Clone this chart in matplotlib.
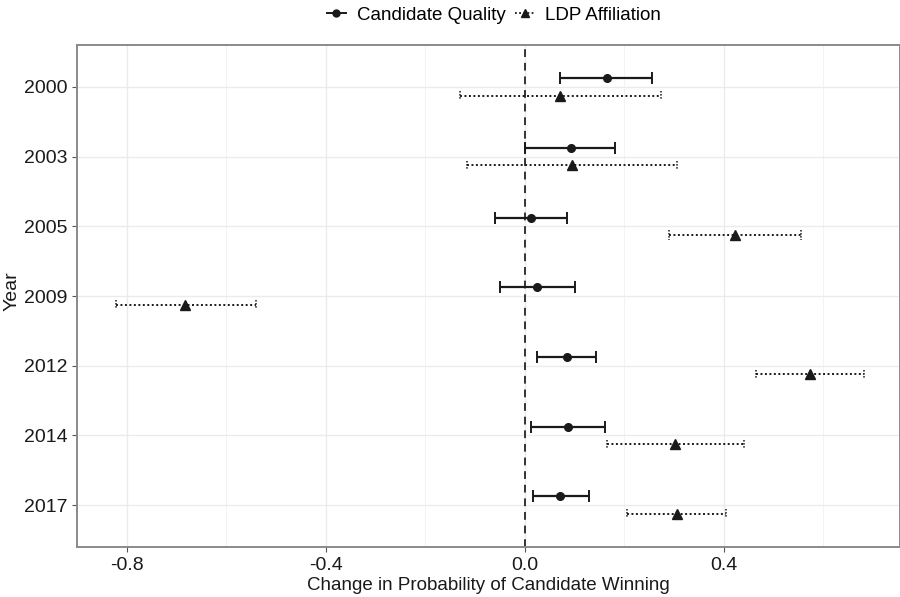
import matplotlib
matplotlib.use("Agg")
import matplotlib.pyplot as plt
from matplotlib.lines import Line2D

plt.rcParams['font.family'] = ['Liberation Sans', 'DejaVu Sans']

years = ["2000", "2003", "2005", "2009", "2012", "2014", "2017"]

# Candidate Quality: estimate, lower, upper
cq_est = [0.164, 0.092, 0.013, 0.025, 0.084, 0.086, 0.071]
cq_lo = [0.071, 0.001, -0.061, -0.051, 0.025, 0.012, 0.016]
cq_hi = [0.256, 0.182, 0.085, 0.101, 0.142, 0.160, 0.128]

# LDP Affiliation: estimate, lower, upper
ldp_est = [0.071, 0.095, 0.423, -0.684, 0.573, 0.302, 0.305]
ldp_lo = [-0.130, -0.116, 0.290, -0.823, 0.465, 0.165, 0.206]
ldp_hi = [0.273, 0.305, 0.554, -0.541, 0.682, 0.440, 0.405]

dodge = 0.125
pos = list(range(len(years)))
y_cq = [p - dodge for p in pos]
y_ldp = [p + dodge for p in pos]

fig = plt.figure(figsize=(9, 5.97), dpi=100)
ax = fig.add_axes([77 / 900, 1 - 547 / 597, 823 / 900, 502 / 597])

# gridlines
ax.set_xticks([-0.8, -0.4, 0.0, 0.4])
ax.set_xticks([-0.6, -0.2, 0.2, 0.6], minor=True)
ax.grid(True, which='major', color='#ebebeb', linewidth=1.0)
ax.grid(True, which='minor', axis='x', color='#f3f3f3', linewidth=0.7)
ax.set_axisbelow(True)

ax.axvline(0, color='#333333', linestyle=(0, (4, 3)), linewidth=1.4, zorder=2)

# Candidate quality: solid error bars
cq_err = [[e - l for e, l in zip(cq_est, cq_lo)], [h - e for e, h in zip(cq_est, cq_hi)]]
ax.errorbar(cq_est, y_cq, xerr=cq_err, fmt='o', color='#1a1a1a', ms=5.5,
            elinewidth=1.6, capsize=4, capthick=1.4, zorder=3)

# LDP affiliation: dotted error bars
ldp_err = [[e - l for e, l in zip(ldp_est, ldp_lo)], [h - e for e, h in zip(ldp_est, ldp_hi)]]
eb = ax.errorbar(ldp_est, y_ldp, xerr=ldp_err, fmt='^', color='#1a1a1a', ms=6.5,
                 elinewidth=1.4, capsize=0, zorder=3)
eb[2][0].set_linestyle((0, (1, 1.3)))
cap = 0.065
ax.vlines(ldp_lo, [y - cap for y in y_ldp], [y + cap for y in y_ldp],
          colors='#1a1a1a', linestyles=(0, (1, 1)), linewidth=1.1, zorder=3)
ax.vlines(ldp_hi, [y - cap for y in y_ldp], [y + cap for y in y_ldp],
          colors='#1a1a1a', linestyles=(0, (1, 1)), linewidth=1.1, zorder=3)

ax.set_yticks(pos)
ax.set_yticklabels(years)
ax.set_ylim(len(years) - 1 + 0.6, -0.6)
ax.set_xlim(-0.9005, 0.754)
ax.set_xticklabels(["-0.8", "-0.4", "0.0", "0.4"])

for s in ax.spines.values():
    s.set_color('#8a8a8a')
    s.set_linewidth(1.4)
ax.tick_params(which='major', length=3.5, color='#555555', labelsize=14, labelcolor='#1a1a1a')
ax.tick_params(which='minor', length=0)

ax.set_xlabel("Change in Probability of Candidate Winning", fontsize=13.5, color='#1a1a1a', labelpad=2)
ax.set_ylabel("Year", fontsize=14, color='#1a1a1a')
ax.yaxis.set_label_coords(-0.069, 0.51)

handles = [
    Line2D([], [], color='#1a1a1a', marker='o', ms=5, linestyle='-', linewidth=1.4),
    Line2D([], [], color='#1a1a1a', marker='^', ms=6, linestyle=(0, (1, 1.3)), linewidth=1.3),
]
fig.legend(handles, ["Candidate Quality", "LDP Affiliation"], loc='center',
           bbox_to_anchor=(494 / 900, 1 - 15 / 597), ncol=2, frameon=False,
           fontsize=13.5, handlelength=1.0, handletextpad=0.6, columnspacing=0.5)

fig.savefig("out.png", dpi=100)
